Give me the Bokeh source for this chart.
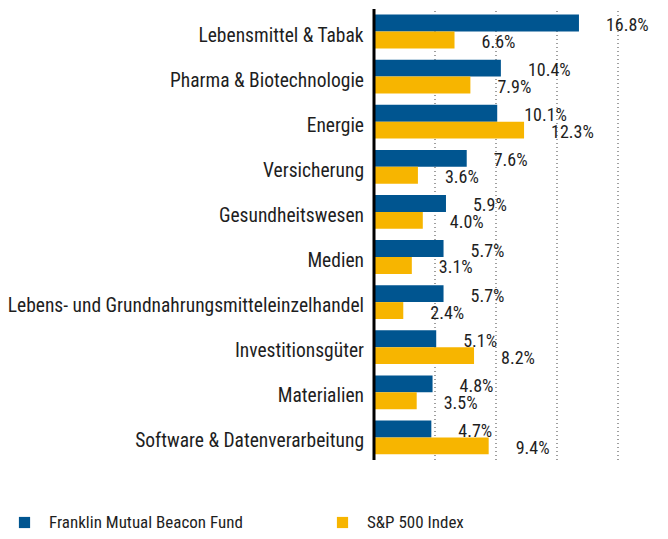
from bokeh.plotting import figure
from bokeh.models import Range1d, ColumnDataSource, Legend, LegendItem
from bokeh.core.properties import value
from bokeh.embed import file_html
from bokeh.resources import INLINE

categories = ["Lebensmittel & Tabak", "Pharma & Biotechnologie", "Energie",
              "Versicherung", "Gesundheitswesen", "Medien",
              "Lebens- und Grundnahrungsmitteleinzelhandel", "Investitionsgüter",
              "Materialien", "Software & Datenverarbeitung"]
fund = [16.8, 10.4, 10.1, 7.6, 5.9, 5.7, 5.7, 5.1, 4.8, 4.7]
index = [6.6, 7.9, 12.3, 3.6, 4.0, 3.1, 2.4, 8.2, 3.5, 9.4]
series_names = ["Franklin Mutual Beacon Fund", "S&P 500 Index"]
grid_ticks = [5, 10, 15, 20]

BLUE = "#005590"
YELLOW = "#f7b500"
FONT = "Roboto Condensed"
TEXT = "#1e1e1e"

W, H = 668, 539
PX_X = 12.2      # pixels per percent
X0 = 373.5       # pixel position of 0 %
PX_Y = 45.1      # pixels per category band
Y0 = 31          # pixel position of first category centre

n = len(categories)
pos = [-i for i in range(n)]
band_top = 0.5
band_bottom = -(n - 1) - 0.5

src = ColumnDataSource(dict(
    cat=categories,
    pos=pos,
    y_fund=[p_ + 0.1875 for p_ in pos],
    y_index=[p_ - 0.1875 for p_ in pos],
    fund=fund,
    index=index,
    fund_label=[f"{v:.1f}%" for v in fund],
    index_label=[f"{v:.1f}%" for v in index],
    zero=[0] * n,
))

p = figure(width=W, height=H,
           x_range=Range1d(-X0 / PX_X, (W - X0) / PX_X),
           y_range=Range1d(-(H - Y0) / PX_Y, Y0 / PX_Y),
           output_backend="svg", toolbar_location=None, min_border=0)
p.axis.visible = False
p.grid.visible = False
p.outline_line_color = None

# dotted vertical grid lines
p.segment(x0=grid_ticks, x1=grid_ticks, y0=[band_bottom] * len(grid_ticks),
          y1=[band_top] * len(grid_ticks), line_color="#808080",
          line_dash="1 3", line_width=1.5)

r1 = p.hbar(y="y_fund", left=0, right="fund", height=0.375, source=src,
            fill_color=BLUE, line_color=None)
r2 = p.hbar(y="y_index", left=0, right="index", height=0.375, source=src,
            fill_color=YELLOW, line_color=None)

# vertical axis line
p.segment(x0=[0], x1=[0], y0=[band_bottom], y1=[band_top],
          line_color="black", line_width=3)

p.text(x="fund", y="y_fund", text="fund_label", source=src, x_offset=27,
       y_offset=1.5, text_align="left", text_baseline="middle",
       text_font=value(FONT), text_font_size="18px", text_color=TEXT)
p.text(x="index", y="y_index", text="index_label", source=src, x_offset=27,
       y_offset=1.5, text_align="left", text_baseline="middle",
       text_font=value(FONT), text_font_size="18px", text_color=TEXT)

p.text(x="zero", y="pos", text="cat", source=src, x_offset=-10, y_offset=3.5,
       text_align="right", text_baseline="middle", text_font=value(FONT),
       text_font_size="19.5px", text_color=TEXT)

for r, name, loc in [(r1, series_names[0], (17, 7)), (r2, series_names[1], (335, 7))]:
    leg = Legend(items=[LegendItem(label=name, renderers=[r])], location=loc,
                 glyph_width=14, glyph_height=14, label_standoff=18,
                 label_height=14, padding=0, margin=0, border_line_color=None,
                 background_fill_alpha=0, label_text_font=FONT,
                 label_text_font_size="17px", label_text_color=TEXT)
    p.add_layout(leg)

open("out.html", "w").write(file_html(p, INLINE))
